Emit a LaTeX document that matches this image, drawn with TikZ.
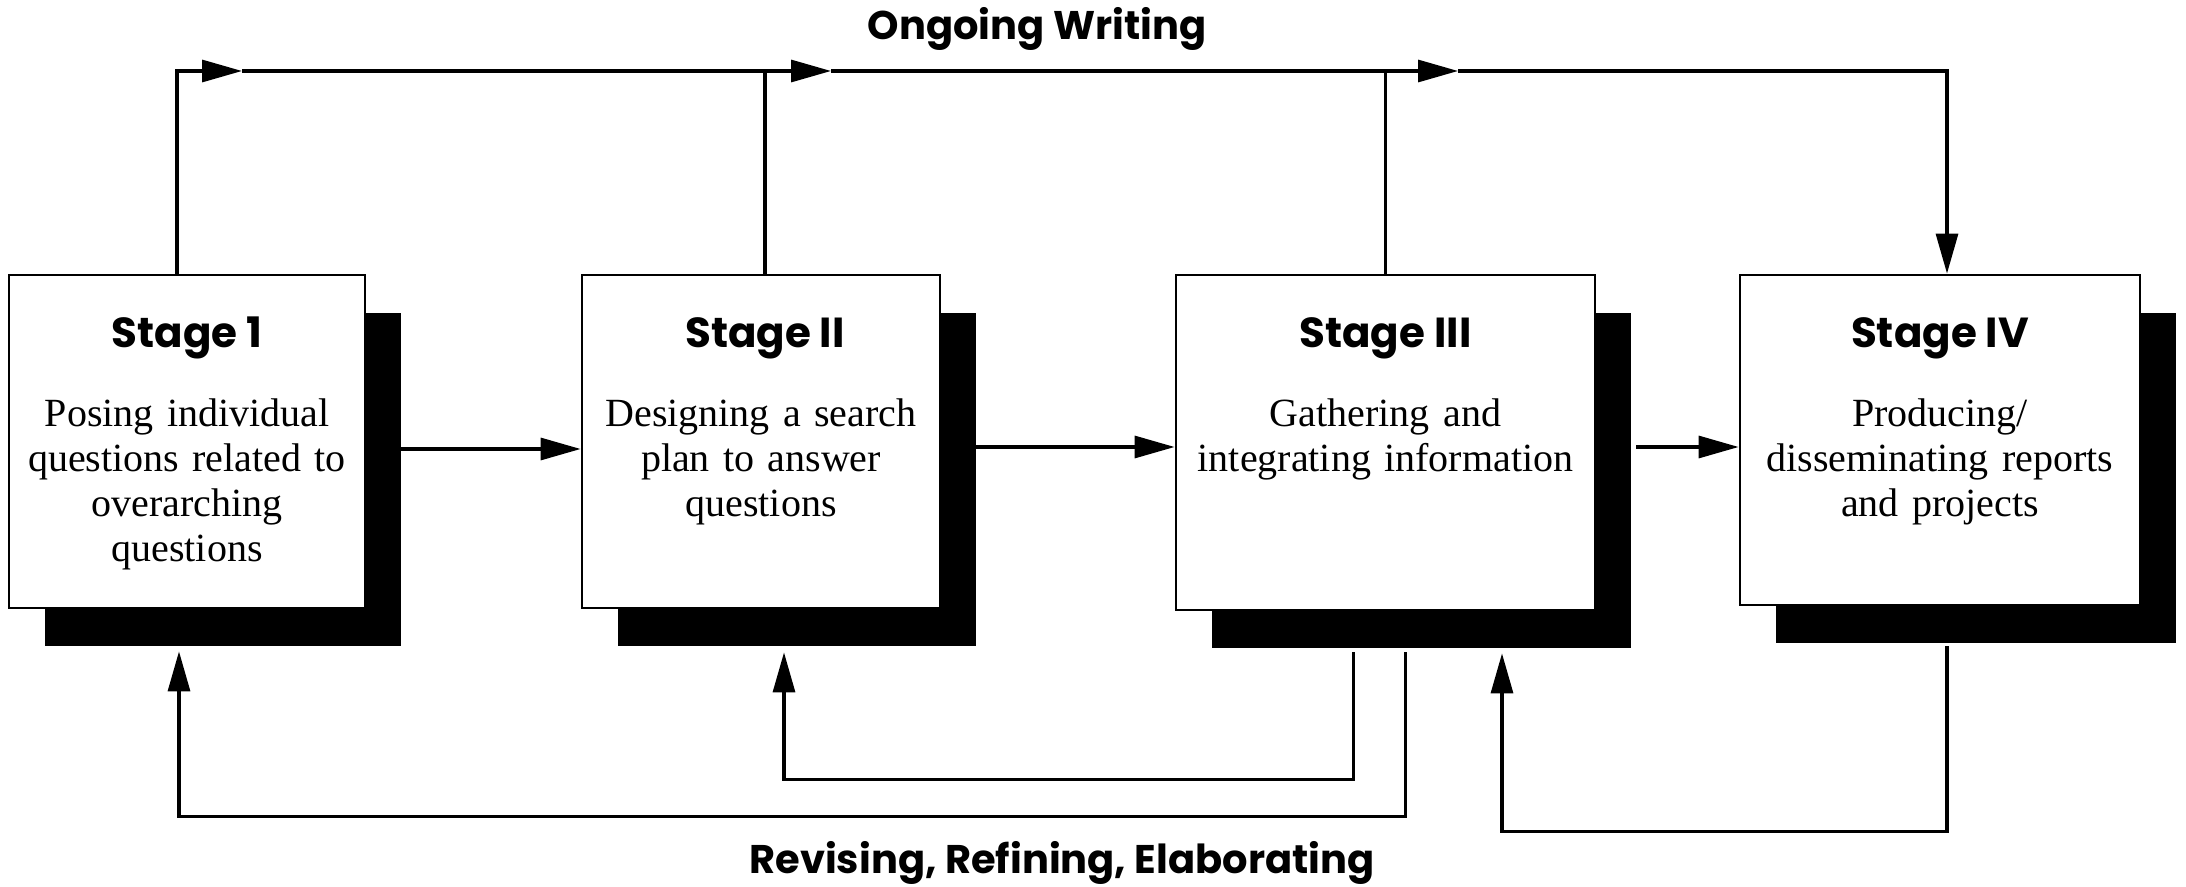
\documentclass[tikz,border=0pt]{standalone}
\usepackage{fontspec}
\setmainfont{Liberation Serif}
\newfontfamily\headfont{Poppins}
\usetikzlibrary{arrows.meta,shadows}
\begin{document}
\begin{tikzpicture}[x=0.5pt,y=-0.5pt,
  stagebox/.style={draw=black, line width=1.4pt, fill=white, inner sep=0pt,
     drop shadow={shadow xshift=18pt, shadow yshift=-19pt, fill=black, opacity=1}},
  stagetitle/.style={font=\headfont\bfseries\fontsize{21}{25}\selectfont, anchor=base, inner sep=0pt},
  stagebody/.style={font=\fontsize{20}{22.5}\selectfont, anchor=base, inner sep=0pt, align=center, text width=215pt},
  lbltext/.style={font=\headfont\bfseries\fontsize{20}{24}\selectfont, anchor=base, inner sep=0pt},
  conn/.style={line width=1.6pt},
  arr/.style={conn, -{Triangle[length=20pt,width=11pt]}},
]
\useasboundingbox (0,0) rectangle (2186,887);

% boxes
\node[stagebox, minimum width=178pt, minimum height=166.5pt] (s1) at (187,441.5) {};
\node[stagebox, minimum width=179pt, minimum height=166.5pt] (s2) at (761,441.5) {};
\node[stagebox, minimum width=209.5pt, minimum height=167.5pt] (s3) at (1385.5,442.5) {};
\node[stagebox, minimum width=200pt, minimum height=165pt] (s4) at (1940,440) {};

% titles
\node[stagetitle] (t1) at (187,348) {Stage 1};
\node[stagetitle] (t2) at (765,348) {Stage II};
\node[stagetitle] (t3) at (1385.5,348) {Stage III};
\node[stagetitle] (t4) at (1940,348) {Stage IV};

% bodies
\node[stagebody] (b1) at (187,427) {Posing individual\\questions related to\\overarching\\questions};
\node[stagebody] (b2) at (761,427) {Designing a search\\plan to answer\\questions};
\node[stagebody] (b3) at (1385.5,427) {Gathering and\\integrating information};
\node[stagebody] (b4) at (1940,427) {Producing/\\disseminating reports\\and projects};

% labels
\node[lbltext] (ow) at (1037,40) {Ongoing Writing};
\node[lbltext] (rre) at (1062,873) {Revising, Refining, Elaborating};

% top flow
\coordinate (tl) at (177,71);
\coordinate (tr) at (1947,71);
\coordinate (a1) at (242,71);
\coordinate (a2) at (831,71);
\coordinate (a3) at (1458,71);
\draw[arr] (s1.north -| tl) -- (tl) -- (a1);
\draw[arr] (a1) -- (a2);
\draw[arr] (a2) -- (a3);
\draw[arr] (a3) -- (tr) -- (s4.north -| tr);
\draw[conn] ([xshift=2pt]s2.north) -- ([xshift=2pt]s2.north |- tl);
\draw[conn] (s3.north) -- (s3.north |- tl);

% stage to stage
\draw[arr] ([shift={(35,7.5)}]s1.east) coordinate (c12) -- (c12 -| s2.west);
\draw[arr] ([shift={(34,5.5)}]s2.east) coordinate (c23) -- (c23 -| s3.west);
\draw[arr] ([shift={(40,4.5)}]s3.east) coordinate (c34) -- (c34 -| s4.west);

% feedback loops
\draw[arr] ([shift={(20,41)}]s3.south) -- ++(0,164) -| ([shift={(-8,42)}]s1.south);
\draw[arr] ([shift={(-32,41)}]s3.south) -- ++(0,127) -| ([shift={(23,43)}]s2.south);
\draw[arr] ([shift={(7,40)}]s4.south) -- ++(0,185) -| ([shift={(116.5,42)}]s3.south);
\end{tikzpicture}
\end{document}
